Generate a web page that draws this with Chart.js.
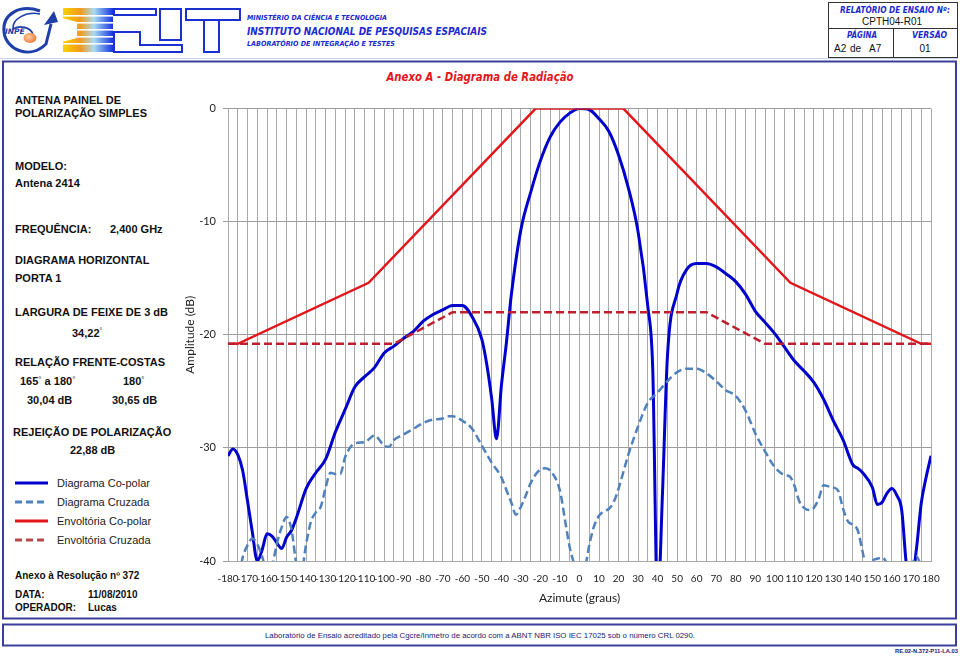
<!DOCTYPE html>
<html>
<head>
<meta charset="utf-8">
<script src="https://cdn.jsdelivr.net/npm/chart.js@4.4.1/dist/chart.umd.min.js"></script>
<style>
html,body{margin:0;padding:0;background:#fff;}
body{width:960px;height:658px;position:relative;overflow:hidden;font-family:"Liberation Sans",Arial,sans-serif;}
#bg{position:absolute;left:0;top:0;}
#wrap{position:absolute;left:176px;top:95px;width:780px;height:520px;}
</style>
</head>
<body>
<svg id="bg" width="960" height="658" xmlns="http://www.w3.org/2000/svg">
  <defs>
    <linearGradient id="litg" x1="0" y1="0" x2="1" y2="0">
      <stop offset="0" stop-color="#f7d200"/>
      <stop offset="0.35" stop-color="#f29a1e"/>
      <stop offset="0.62" stop-color="#a8dcf2"/>
      <stop offset="1" stop-color="#1534e0"/>
    </linearGradient>
    <radialGradient id="org" cx="0.4" cy="0.4" r="0.7">
      <stop offset="0" stop-color="#ffd0a0"/>
      <stop offset="1" stop-color="#e8702a"/>
    </radialGradient>
  </defs>
  <!-- INPE logo -->
  <path d="M40 11 C20 4, 2 14, 4 32 C6 50, 30 60, 46 44 L51 24" stroke="#1f3fa8" stroke-width="3" fill="none"/>
  <polygon points="44,25 58,22 54,11" fill="#1f3fa8"/>
  <path d="M40 14 C26 11, 12 19, 13 29 C20 25, 30 27, 33 34" stroke="#1f3fa8" stroke-width="1.6" fill="none"/>
  <ellipse cx="30" cy="38" rx="6.5" ry="5" fill="url(#org)"/>
  <text x="5" y="34" font-family="DejaVu Sans" font-style="italic" font-weight="bold" font-size="7.5" fill="#1f3fa8">INPE</text>
  <!-- LIT logo -->
  <rect x="63" y="8" width="50" height="44" fill="url(#litg)"/>
  <rect x="63" y="15" width="50" height="1.6" fill="#fff"/>
  <rect x="63" y="22" width="50" height="1.6" fill="#fff"/>
  <rect x="63" y="29" width="50" height="1.6" fill="#fff"/>
  <rect x="63" y="36" width="50" height="1.6" fill="#fff"/>
  <rect x="63" y="43" width="50" height="1.6" fill="#fff"/>
  <polygon points="62,18 77,22 77,38 62,42" fill="#fff"/>
  <g stroke="#1a30d0" stroke-width="2" fill="#fff">
    <rect x="114" y="9" width="42" height="6"/>
    <polygon points="114,32 140,32 140,45 182,45 182,52 114,52"/>
    <rect x="160" y="9" width="21" height="31"/>
    <rect x="186" y="9" width="54" height="11"/>
    <rect x="204" y="20" width="15" height="32"/>
  </g>
  <!-- header texts -->
  <g font-family="DejaVu Sans" font-style="italic" font-weight="bold" fill="#1a2ad0">
    <text x="247" y="20" font-size="7" textLength="140" lengthAdjust="spacingAndGlyphs">MINISTÉRIO DA CIÊNCIA E TECNOLOGIA</text>
    <text x="247" y="34.5" font-size="10.5" textLength="240" lengthAdjust="spacingAndGlyphs">INSTITUTO NACIONAL DE PESQUISAS ESPACIAIS</text>
    <text x="247" y="46" font-size="7" textLength="148" lengthAdjust="spacingAndGlyphs">LABORATÓRIO DE INTEGRAÇÃO E TESTES</text>
  </g>
  <line x1="0" y1="58.5" x2="958" y2="58.5" stroke="#c8d2f2" stroke-width="1"/>
  <!-- report box -->
  <g stroke="#333" stroke-width="1" fill="none">
    <rect x="828.5" y="2.5" width="129" height="55"/>
    <line x1="828.5" y1="28.5" x2="957.5" y2="28.5"/>
    <line x1="893.5" y1="28.5" x2="893.5" y2="57.5"/>
  </g>
  <g font-family="DejaVu Sans" font-style="italic" font-weight="bold" fill="#1a2ad0" font-size="8">
    <text x="840" y="13" textLength="110" lengthAdjust="spacingAndGlyphs">RELATÓRIO DE ENSAIO Nº:</text>
    <text x="847" y="38" textLength="30" lengthAdjust="spacingAndGlyphs">PÁGINA</text>
    <text x="912" y="38" textLength="35" lengthAdjust="spacingAndGlyphs">VERSÃO</text>
  </g>
  <g font-family="Liberation Sans" font-size="10" fill="#111">
    <text x="892" y="25" text-anchor="middle">CPTH04-R01</text>
    <text x="834" y="52">A2</text>
    <text x="850" y="52">de</text>
    <text x="869" y="52">A7</text>
    <text x="925" y="52" text-anchor="middle">01</text>
  </g>
  <!-- main box -->
  <rect x="3" y="61.5" width="953" height="557" fill="none" stroke="#3a3e9c" stroke-width="2"/>
  <text x="480" y="81" text-anchor="middle" font-family="DejaVu Sans" font-style="italic" font-weight="bold" font-size="12.5" fill="#e3161b" textLength="187" lengthAdjust="spacingAndGlyphs">Anexo A - Diagrama de Radiação</text>
  <!-- left panel -->
  <g font-family="Liberation Sans" font-weight="bold" font-size="11" fill="#111">
    <text x="15" y="104">ANTENA PAINEL DE</text>
    <text x="15" y="117">POLARIZAÇÃO SIMPLES</text>
    <text x="15" y="170">MODELO:</text>
    <text x="15" y="187">Antena 2414</text>
    <text x="15" y="233">FREQUÊNCIA:</text>
    <text x="110" y="233">2,400 GHz</text>
    <text x="15" y="264">DIAGRAMA HORIZONTAL</text>
    <text x="15" y="282">PORTA 1</text>
    <text x="15" y="316">LARGURA DE FEIXE DE 3 dB</text>
    <text x="72" y="337">34,22<tspan font-size="7" dy="-4" font-weight="normal">°</tspan></text>
    <text x="15" y="366">RELAÇÃO FRENTE-COSTAS</text>
    <text x="20" y="385">165<tspan font-size="8" dy="-3" font-weight="normal">°</tspan><tspan dy="3"> a 180</tspan><tspan font-size="8" dy="-3" font-weight="normal">°</tspan></text>
    <text x="123" y="385">180<tspan font-size="8" dy="-3" font-weight="normal">°</tspan></text>
    <text x="27" y="404">30,04 dB</text>
    <text x="112" y="404">30,65 dB</text>
    <text x="13" y="436">REJEIÇÃO DE POLARIZAÇÃO</text>
    <text x="70" y="454">22,88 dB</text>
  </g>
  <g stroke-width="3" fill="none">
    <line x1="15" y1="483" x2="48" y2="483" stroke="#0000cc"/>
    <line x1="15" y1="502" x2="48" y2="502" stroke="#4f81bd" stroke-dasharray="7,4"/>
    <line x1="15" y1="521" x2="48" y2="521" stroke="#e3161b"/>
    <line x1="15" y1="540" x2="48" y2="540" stroke="#b5484a" stroke-dasharray="7,4"/>
  </g>
  <g font-family="Liberation Sans" font-size="11" fill="#222">
    <text x="57" y="487">Diagrama Co-polar</text>
    <text x="57" y="506">Diagrama Cruzada</text>
    <text x="57" y="525">Envoltória Co-polar</text>
    <text x="57" y="544">Envoltória Cruzada</text>
  </g>
  <g font-family="Liberation Sans" font-weight="bold" font-size="10" fill="#111">
    <text x="15" y="579">Anexo à Resolução nº 372</text>
    <text x="15" y="598">DATA:</text>
    <text x="88" y="598">11/08/2010</text>
    <text x="15" y="611">OPERADOR:</text>
    <text x="88" y="611">Lucas</text>
  </g>
  <!-- footer -->
  <rect x="3" y="624.5" width="953" height="21" fill="none" stroke="#3a3e9c" stroke-width="2"/>
  <text x="480" y="638" text-anchor="middle" font-family="Liberation Sans" font-size="8" fill="#1b1b70" textLength="430" lengthAdjust="spacingAndGlyphs">Laboratório de Ensaio acreditado pela Cgcre/Inmetro de acordo com a ABNT NBR ISO IEC 17025 sob o número CRL 0290.</text>
  <text x="958" y="653" text-anchor="end" font-family="Liberation Sans" font-weight="bold" font-size="6" fill="#1b1b70" textLength="63" lengthAdjust="spacingAndGlyphs">RE.02-N.372-P11-LA.03</text>
</svg>
<div id="wrap"><canvas id="c" width="780" height="520"></canvas></div>
<script>
// ---- Data ----
const coAngles = [-180,-177.5,-175,-172.5,-170,-167.5,-165,-162.5,-160,-157.5,-155,-152.5,-150,-147.5,-145,-140,-135,-130,-125,-120,-115,-110,-105,-100,-95,-90,-85,-80,-75,-70,-65,-60,-55,-50,-47.5,-45,-42.5,-40,-37.5,-35,-30,-25,-20,-15,-10,-5,0,5,10,15,20,25,30,35,37.5,40,42.5,45,50,55,60,65,70,75,80,85,90,95,100,105,110,115,120,125,130,135,140,142.5,145,150,152.5,155,157.5,160,162.5,165,167.5,170,172.5,175,177.5,180];
const coPolar = [-30.7,-30.1,-30.6,-32.0,-34.7,-37.5,-40.0,-39.0,-37.6,-37.8,-38.4,-38.9,-37.9,-37.3,-36.2,-33.6,-32.2,-31.0,-28.6,-26.6,-24.6,-23.7,-22.9,-21.6,-21.0,-20.3,-19.7,-18.8,-18.2,-17.8,-17.4,-17.4,-18.4,-20.4,-22.6,-25.6,-29.2,-24.5,-20.8,-16.6,-10.7,-7.4,-4.6,-2.5,-1.2,-0.4,0,-0.1,-0.9,-2.0,-4.1,-7.0,-10.9,-17.5,-23.0,-44.0,-34.0,-22.0,-16.3,-14.2,-13.7,-13.7,-14.0,-14.6,-15.3,-16.4,-17.9,-18.9,-19.9,-21.1,-22.3,-23.2,-24.2,-25.7,-27.6,-29.3,-31.5,-31.8,-32.2,-33.5,-35.0,-34.8,-34.0,-33.6,-34.2,-35.5,-40.5,-42.0,-39.0,-34.9,-32.6,-30.7];

const crAngles = [-180,-175,-172.5,-170,-167.5,-165,-162.5,-160,-157.5,-155,-152.5,-150,-147.5,-145,-142.5,-140,-137.5,-135,-132.5,-130,-127.5,-125,-122.5,-120,-115,-110,-105,-100,-97.5,-95,-90,-85,-80,-75,-70,-67.5,-65,-60,-55,-50,-45,-40,-37.5,-35,-32.5,-30,-27.5,-25,-20,-17.5,-15,-10,-7.5,-5,-2.5,0,2.5,5,7.5,10,12.5,15,17.5,20,25,30,35,40,45,50,55,60,65,70,75,80,85,90,95,100,105,107.5,110,112.5,115,117.5,120,122.5,125,127.5,130,132.5,135,137.5,140,142.5,145,147.5,150,152.5,155,157.5,160,165,170,172.5,175,180];
const crPolar = [-43,-42,-39.7,-38.6,-38.0,-38.5,-39.6,-41,-40.5,-38.5,-37.0,-36.1,-37.2,-40.2,-41,-38.5,-36.5,-35.7,-35.2,-33.5,-32.2,-32.3,-32.3,-30.8,-29.6,-29.5,-28.9,-29.8,-29.9,-29.3,-28.8,-28.3,-27.8,-27.5,-27.4,-27.2,-27.2,-27.6,-28.3,-29.8,-31.3,-32.6,-33.7,-34.8,-35.9,-35.2,-34.2,-33.1,-31.9,-31.8,-32.0,-33.8,-36.3,-38.8,-40.5,-43,-41,-38.6,-36.9,-36.0,-35.6,-35.4,-34.8,-33.6,-30.6,-28.1,-26.0,-25.1,-24.1,-23.3,-23.0,-23.0,-23.4,-24.1,-24.9,-25.4,-26.7,-28.7,-30.3,-31.7,-32.4,-32.5,-33.3,-34.7,-35.3,-35.5,-35.3,-34.5,-33.3,-33.4,-33.5,-33.8,-35.4,-36.5,-36.8,-37.3,-39.2,-41,-40.0,-39.8,-39.7,-40.3,-42,-43,-40.5,-39.6,-40.5,-43];

const envCoAngles = [-180,-175,-108,-22.5,22.5,108,175,180];
const envCo = [-20.8,-20.8,-15.4,0,0,-15.4,-20.8,-20.8];

const envCrAngles = [-180,-95,-65,65,95,180];
const envCr = [-20.8,-20.8,-18.0,-18.0,-20.8,-20.8];

const xTickStep = 5;
const yTickStep = 10;

const pts = (xs, ys) => xs.map((x, i) => ({x: x, y: ys[i]}));

new Chart(document.getElementById('c'), {
  type: 'line',
  data: {
    datasets: [
      {label: 'Envoltória Cruzada', data: pts(envCrAngles, envCr), borderColor: '#be1e2d', borderWidth: 2.5, borderDash: [8,4], pointRadius: 0, tension: 0},
      {label: 'Envoltória Co-polar', data: pts(envCoAngles, envCo), borderColor: '#e3161b', borderWidth: 2.5, pointRadius: 0, tension: 0},
      {label: 'Diagrama Cruzada', data: pts(crAngles, crPolar), borderColor: '#4f81bd', borderWidth: 2.5, borderDash: [8,4], pointRadius: 0, cubicInterpolationMode: 'monotone'},
      {label: 'Diagrama Co-polar', data: pts(coAngles, coPolar), borderColor: '#0000cc', borderWidth: 3, pointRadius: 0, cubicInterpolationMode: 'monotone'}
    ]
  },
  options: {
    responsive: false,
    animation: false,
    events: [],
    layout: {padding: {left: 0, right: 25, top: 10, bottom: 0}},
    plugins: {legend: {display: false}, tooltip: {enabled: false}},
    scales: {
      x: {
        type: 'linear', min: -180, max: 180,
        ticks: {stepSize: xTickStep, autoSkip: false, maxRotation: 0, minRotation: 0, padding: 12, color: '#222',
          font: {family: 'Lato', size: 10},
          callback: v => (Math.round(v) % 10 === 0 ? String(Math.round(v)) : '')},
        grid: {color: '#a9a9a9', lineWidth: 1, drawTicks: false},
        border: {display: true, color: '#a9a9a9'},
        title: {display: true, text: 'Azimute (graus)', color: '#222', font: {family: 'Lato', size: 12}, padding: {top: 0, bottom: 10}},
        afterFit: s => { s.height = 54; }
      },
      y: {
        min: -40, max: 0,
        ticks: {stepSize: yTickStep, padding: 7, color: '#222', font: {family: 'Lato', size: 11}},
        grid: {color: '#9c9c9c', lineWidth: 1, tickLength: 5},
        border: {display: true, color: '#a9a9a9'},
        title: {display: true, text: 'Amplitude (dB)', color: '#222', font: {family: 'Lato', size: 12}, padding: {top: 7, bottom: 0}},
        afterFit: s => { s.width = 52; }
      }
    }
  }
});
</script>
</body>
</html>
